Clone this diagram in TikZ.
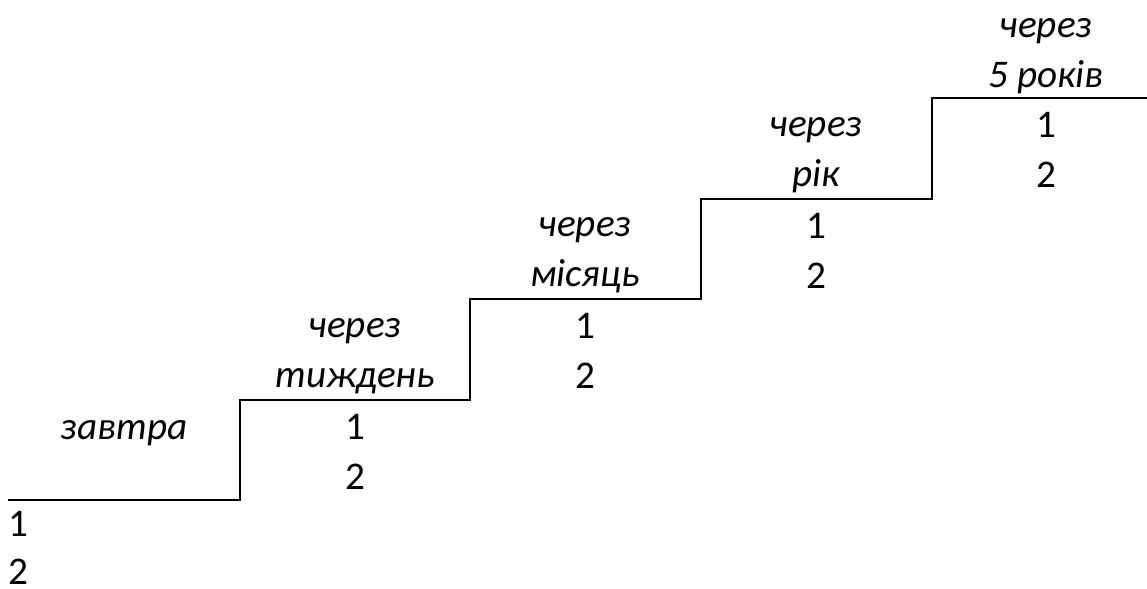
\documentclass[tikz,border=0pt]{standalone}
\usepackage{fontspec}
\setmainfont{Carlito}
\begin{document}
\begin{tikzpicture}[x=0.5pt,y=-0.5pt,
  lbl/.style={font=\fontsize{19.6pt}{23pt}\selectfont\itshape, anchor=base, inner sep=0pt},
  num/.style={font=\fontsize{19.6pt}{23pt}\selectfont, anchor=base, inner sep=0pt},
  stair/.style={line width=1pt, line join=miter}]
\useasboundingbox (0,0) rectangle (1147,589);
\draw[stair] (8,500) -- (240,500) -- (240,400) -- (470,400) -- (470,299) -- (701,299) -- (701,199) -- (932,199) -- (932,98) -- (1147,98);
% column 0
\node[lbl] (t0) at (124,439) {завтра};
\node[num, anchor=base west] (a0) at (8,536) {1};
\node[num, anchor=base west] (b0) at (8,584) {2};
% column 1
\node[lbl] (t1a) at (355,337) {через};
\node[lbl] (t1b) at (355,387) {тиждень};
\node[num] (a1) at (355,439) {1};
\node[num] (b1) at (355,489) {2};
% column 2
\node[lbl] (t2a) at (585,236) {через};
\node[lbl] (t2b) at (585,286) {місяць};
\node[num] (a2) at (585,338) {1};
\node[num] (b2) at (585,388) {2};
% column 3
\node[lbl] (t3a) at (816,136) {через};
\node[lbl] (t3b) at (816,186) {рік};
\node[num] (a3) at (816,238) {1};
\node[num] (b3) at (816,288) {2};
% column 4
\node[lbl] (t4a) at (1046,37) {через};
\node[lbl] (t4b) at (1046,87) {5 років};
\node[num] (a4) at (1046,137) {1};
\node[num] (b4) at (1046,187) {2};
\end{tikzpicture}
\end{document}
